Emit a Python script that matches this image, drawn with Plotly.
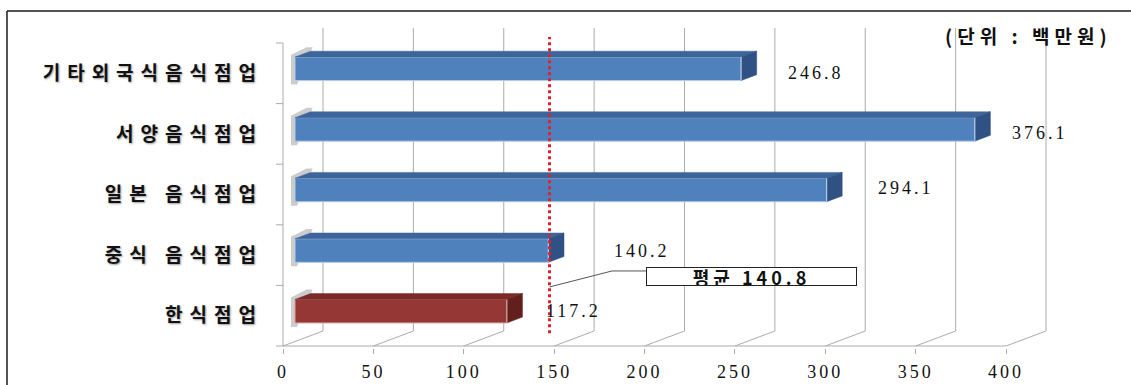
import plotly.graph_objects as go

# ---------------- data ----------------
CATEGORIES = ["기타외국식음식점업", "서양음식점업", "일본 음식점업", "중식 음식점업", "한식점업"]  # top -> bottom
VALUES = [246.8, 376.1, 294.1, 140.2, 117.2]
VALUE_TEXT = ["246.8", "376.1", "294.1", "140.2", "117.2"]
AVERAGE = 140.8
AVG_LABEL = "평균 140.8"
UNIT_LABEL = "(단위 : 백만원)"
X_TICKS = [0, 50, 100, 150, 200, 250, 300, 350, 400]
X_TICK_TEXT = ["0", "50", "100", "150", "200", "250", "300", "350", "400"]

# ---------------- style / geometry ----------------
W, H = 1131, 385
L, R, T, B = 270, 20, 20, 37
PX_X = 1.8075          # pixels per value unit
PX_Y = 60.6            # pixels per category
PW, PH = W - L - R, H - T - B
X0 = -13 / PX_X
XR = [X0, X0 + PW / PX_X]
Y0 = -0.5 - 2 / PX_Y
YR = [Y0, Y0 + PH / PX_Y]
DX, DY = 40 / PX_X, 15 / PX_Y       # full depth offset of the 3D box
F0, F1 = 0.3, 0.69                  # bar front / back depth fractions
BAR_H = 23.5 / PX_Y
GRID = "#ABABAB"

FRONT = ["#4F81BD", "#4F81BD", "#4F81BD", "#4F81BD", "#953735"]
TOP = ["#3D659B", "#3D659B", "#3D659B", "#3D659B", "#7A2B29"]
SIDE = ["#2F5183", "#2F5183", "#2F5183", "#2F5183", "#631F1E"]
EDGE = ["#B4CAE6", "#B4CAE6", "#B4CAE6", "#B4CAE6", "#D8A3A2"]
LABEL_SHIFT_X = [29, 20, 34, 48, 22]   # px gap from bar end to value label
LABEL_SHIFT_Y = [-4, -4, 2, 0, 0]

n = len(CATEGORIES)
ypos = [n - 1 - i for i in range(n)]

fig = go.Figure()
shapes = []

# back wall gridlines, floor lines, baseline, left wall
for v in X_TICKS:
    shapes.append(dict(type="line", xref="x", yref="y", x0=v + DX, x1=v + DX,
                       y0=-0.5 + DY, y1=n - 0.5 + DY, line=dict(color=GRID, width=1), layer="below"))
    shapes.append(dict(type="line", xref="x", yref="y", x0=v, x1=v + DX,
                       y0=-0.5, y1=-0.5 + DY, line=dict(color=GRID, width=1), layer="below"))
shapes.append(dict(type="line", xref="x", yref="y", x0=0, x1=X_TICKS[-1], y0=-0.5, y1=-0.5,
                   line=dict(color=GRID, width=1), layer="below"))
shapes.append(dict(type="line", xref="x", yref="y", x0=0, x1=0, y0=-0.5, y1=n - 0.5,
                   line=dict(color=GRID, width=1), layer="below"))
for k in range(n + 1):
    shapes.append(dict(type="line", xref="x", yref="y", x0=-7 / PX_X, x1=0, y0=k - 0.5, y1=k - 0.5,
                       line=dict(color=GRID, width=1), layer="below"))

# soft shadows at bar left ends
for i in range(n):
    yc = ypos[i] + DY * F0
    yb, yt = yc - BAR_H / 2, yc + BAR_H / 2
    xa = DX * F0 - 4 / PX_X
    dd_x, dd_y = DX * (F1 - F0), DY * (F1 - F0)
    path = (f"M {xa},{yb - 4/PX_Y} L {xa},{yt + 2/PX_Y} L {xa + dd_x},{yt + dd_y + 4/PX_Y} "
            f"L {xa + dd_x + 6/PX_X},{yt + dd_y + 4/PX_Y} L {xa + 6/PX_X},{yb - 4/PX_Y} Z")
    shapes.append(dict(type="path", xref="x", yref="y", path=path,
                       fillcolor="rgba(110,110,110,0.35)", line=dict(width=0), layer="below"))

# bar front faces
fig.add_trace(go.Bar(
    orientation="h",
    y=[p + DY * F0 for p in ypos],
    x=VALUES,
    base=DX * F0,
    width=BAR_H,
    marker=dict(color=FRONT, line=dict(color=EDGE, width=1)),
    hoverinfo="skip",
))

# top and side faces
for i in range(n):
    yc = ypos[i] + DY * F0
    yb, yt = yc - BAR_H / 2, yc + BAR_H / 2
    xs = DX * F0
    xe = xs + VALUES[i]
    dd_x, dd_y = DX * (F1 - F0), DY * (F1 - F0)
    fig.add_trace(go.Scatter(
        x=[xs, xe, xe + dd_x, xs + dd_x, xs], y=[yt, yt, yt + dd_y, yt + dd_y, yt],
        fill="toself", fillcolor=TOP[i], mode="lines", line=dict(color=TOP[i], width=0.5),
        hoverinfo="skip"))
    fig.add_trace(go.Scatter(
        x=[xe, xe, xe + dd_x, xe + dd_x, xe], y=[yb, yt, yt + dd_y, yb + dd_y, yb],
        fill="toself", fillcolor=SIDE[i], mode="lines", line=dict(color=SIDE[i], width=0.5),
        hoverinfo="skip"))
    fig.add_trace(go.Scatter(x=[xe, xe], y=[yb, yt], mode="lines",
                             line=dict(color=EDGE[i], width=1.2), hoverinfo="skip"))

# average line
avg_x = AVERAGE + DX * F0
fig.add_trace(go.Scatter(x=[avg_x, avg_x], y=[-0.29, n - 0.4], mode="lines",
                         line=dict(color="#E0202E", width=3, dash="dot"), hoverinfo="skip"))
# leader line to the average box
fig.add_trace(go.Scatter(x=[avg_x, 182.0, 200.8], y=[0.474, 0.738, 0.738], mode="lines",
                         line=dict(color="#555555", width=1), hoverinfo="skip"))

annotations = []
for i in range(n):
    annotations.append(dict(
        x=DX * F1 + VALUES[i], y=ypos[i] + DY * F0, xref="x", yref="y",
        text=f"<span style='letter-spacing:3px'>{VALUE_TEXT[i]}</span>",
        showarrow=False, xanchor="left", yanchor="middle",
        xshift=LABEL_SHIFT_X[i], yshift=LABEL_SHIFT_Y[i],
        font=dict(family="Liberation Serif", size=18, color="#111111")))

annotations.append(dict(
    x=259.2, y=0.647, xref="x", yref="y",
    text=f"<span style='letter-spacing:4px'>{AVG_LABEL}</span>",
    showarrow=False, xanchor="center", yanchor="middle",
    width=209, height=17, borderpad=0, borderwidth=1, bordercolor="#222222", bgcolor="white",
    font=dict(family="Noto Sans CJK KR", size=18, color="#111111", weight="bold")))

annotations.append(dict(
    x=365.1, y=4.632, xref="x", yref="y",
    text=f"<span style='letter-spacing:5px'>{UNIT_LABEL}</span>",
    showarrow=False, xanchor="left", yanchor="middle",
    font=dict(family="Noto Sans CJK KR", size=19, color="#111111", weight="bold")))

# outer frame (left and top edges)
shapes.append(dict(type="line", xref="paper", yref="paper",
                   x0=(7 - L) / PW, x1=(W + 5 - L) / PW,
                   y0=(H - B - 11) / PH, y1=(H - B - 11) / PH,
                   line=dict(color="#1A1A1A", width=1.5)))
shapes.append(dict(type="line", xref="paper", yref="paper",
                   x0=(7 - L) / PW, x1=(7 - L) / PW,
                   y0=(H - B - 11) / PH, y1=-B / PH - 0.05,
                   line=dict(color="#1A1A1A", width=1.5)))

fig.update_layout(
    width=W, height=H,
    margin=dict(l=L, r=R, t=T, b=B, autoexpand=False),
    paper_bgcolor="white", plot_bgcolor="white",
    showlegend=False,
    barmode="overlay",
    shapes=shapes,
    annotations=annotations,
    xaxis=dict(range=XR, tickvals=X_TICKS, automargin=False,
               ticktext=[f"<span style='letter-spacing:3px'>{t}</span>" for t in X_TICK_TEXT],
               showgrid=False, zeroline=False, showline=False,
               ticks="outside", ticklen=5, tickcolor=GRID, ticklabelstandoff=2,
               tickfont=dict(family="Liberation Serif", size=18, color="#111111")),
    yaxis=dict(range=YR, tickvals=ypos, automargin=False,
               ticktext=[f"<span style='letter-spacing:7px'>{c}</span>" for c in CATEGORIES],
               showgrid=False, zeroline=False, showline=False, ticks="", ticklabelstandoff=6,
               tickfont=dict(family="Noto Sans CJK KR", size=19, color="#111111", weight=600,
                             shadow="1px 1px 2px rgba(0,0,0,0.4)")),
)

fig.write_html("out.html")
